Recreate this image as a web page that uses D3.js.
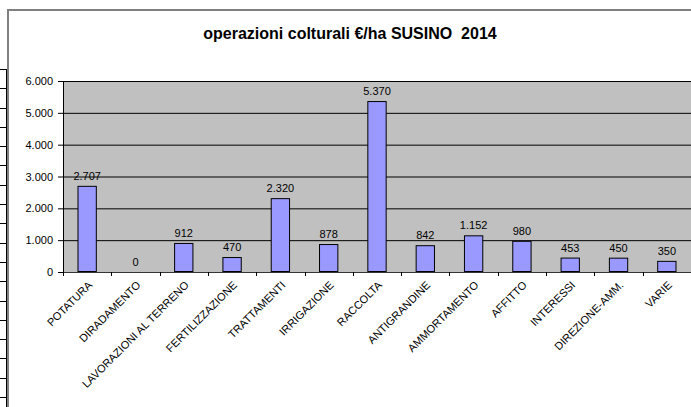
<!DOCTYPE html>
<html>
<head>
<meta charset="utf-8">
<script src="https://cdn.jsdelivr.net/npm/d3@7/dist/d3.min.js"></script>
<style>
  html, body { margin: 0; padding: 0; background: #fff; }
  svg { display: block; font-family: "Liberation Sans", Arial, sans-serif; }
</style>
</head>
<body>
<svg id="chart" width="691" height="407"></svg>
<script>
const categories = ["POTATURA","DIRADAMENTO","LAVORAZIONI AL TERRENO","FERTILIZZAZIONE","TRATTAMENTI","IRRIGAZIONE","RACCOLTA","ANTIGRANDINE","AMMORTAMENTO","AFFITTO","INTERESSI","DIREZIONE-AMM.","VARIE"];
const values = [2707, 0, 912, 470, 2320, 878, 5370, 842, 1152, 980, 453, 450, 350];
const yTicks = [0, 1000, 2000, 3000, 4000, 5000, 6000];
const title = "operazioni colturali €/ha SUSINO  2014";

const W = 691, H = 407;
const plot = { left: 63, right: 691, top: 81, bottom: 272 };

const locale = d3.formatLocale({ decimal: ",", thousands: ".", grouping: [3], currency: ["€", ""] });
const fmt = locale.format(",d");

const svg = d3.select("#chart");

// spreadsheet cell lines peeking on the far left
const rowLines = d3.range(18).map(i => 69 + i * (328 / 17));
svg.append("g").selectAll("line").data(rowLines).join("line")
  .attr("x1", 0).attr("x2", 6).attr("y1", d => Math.round(d) + 0.5).attr("y2", d => Math.round(d) + 0.5)
  .attr("stroke", "#000").attr("stroke-width", 1);
svg.append("line").attr("x1", 6.5).attr("x2", 6.5).attr("y1", 69).attr("y2", H)
  .attr("stroke", "#000").attr("stroke-width", 1);

// chart area
svg.append("rect").attr("x", 8).attr("y", 10).attr("width", W).attr("height", H)
  .attr("fill", "#fff").attr("stroke", "#808080").attr("stroke-width", 2);

// title
svg.append("text").attr("x", 350).attr("y", 39).attr("text-anchor", "middle")
  .style("white-space", "pre")
  .attr("font-size", 16).attr("font-weight", "bold").attr("fill", "#000").text(title);

const x = d3.scaleBand().domain(categories).range([plot.left, plot.right]).paddingInner(0.6).paddingOuter(0.3);
const y = d3.scaleLinear().domain([0, 6000]).range([plot.bottom, plot.top]);

// plot background
svg.append("rect").attr("x", plot.left).attr("y", plot.top)
  .attr("width", plot.right - plot.left).attr("height", plot.bottom - plot.top).attr("fill", "#c0c0c0");

// gridlines
const grid = svg.append("g").attr("transform", `translate(${plot.left},0)`)
  .call(d3.axisLeft(y).tickValues(yTicks.filter(t => t > 0)).tickSize(-(plot.right - plot.left)).tickFormat(""));
grid.select(".domain").remove();
grid.selectAll("line").attr("stroke", "#000").attr("stroke-width", 1);

// bars
svg.append("g").selectAll("rect").data(values).join("rect")
  .attr("x", (d, i) => x(categories[i]) + 0.5)
  .attr("y", d => y(d) + 0.5)
  .attr("width", x.bandwidth() - 1)
  .attr("height", d => Math.max(0, y(0) - y(d) - 1))
  .attr("fill", "#9999ff").attr("stroke", "#000").attr("stroke-width", 1)
  .attr("display", d => d > 0 ? null : "none");

// value labels
svg.append("g").selectAll("text").data(values).join("text")
  .attr("x", (d, i) => x(categories[i]) + x.bandwidth() / 2)
  .attr("y", d => y(d) - 6)
  .attr("text-anchor", "middle").attr("font-size", 11).attr("fill", "#000")
  .text(d => fmt(d));

// y axis
const yAxis = svg.append("g").attr("transform", `translate(${plot.left},0)`)
  .call(d3.axisLeft(y).tickValues(yTicks).tickSize(5).tickPadding(5).tickFormat(fmt));
yAxis.select(".domain").attr("stroke", "#000");
yAxis.selectAll("line").attr("stroke", "#000");
yAxis.selectAll("text").attr("font-size", 11).attr("fill", "#000").attr("font-family", "Liberation Sans, Arial, sans-serif");

// x axis
const xAxis = svg.append("g").attr("transform", `translate(0,${plot.bottom})`)
  .call(d3.axisBottom(x).tickSize(0).tickFormat(d => d));
xAxis.select(".domain").attr("stroke", "#333");
xAxis.selectAll(".tick text")
  .attr("font-size", 11).attr("fill", "#000").attr("font-family", "Liberation Sans, Arial, sans-serif")
  .attr("text-anchor", "end")
  .attr("transform", "translate(3,11) rotate(-45)")
  .attr("x", 0).attr("y", 0).attr("dy", "0.35em");

// category separator ticks
const sep = categories.map(c => x(c) - x.step() * x.paddingInner() / 2).concat([plot.right]);
svg.append("g").selectAll("line").data(sep).join("line")
  .attr("x1", d => Math.round(d) + 0.5).attr("x2", d => Math.round(d) + 0.5)
  .attr("y1", plot.bottom).attr("y2", plot.bottom + 4)
  .attr("stroke", "#000");
</script>
</body>
</html>
